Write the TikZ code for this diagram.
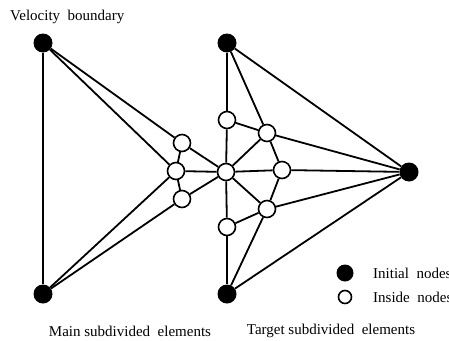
\documentclass[tikz,border=0pt]{standalone}
\usepackage{fontspec}
\setmainfont{Liberation Serif}
\begin{document}
\begin{tikzpicture}[x=1pt,y=-1pt,
  initnode/.style={circle,fill=black,minimum size=19pt,inner sep=0pt},
  insnode/.style={circle,draw=black,fill=white,line width=1.6pt,minimum size=17pt,inner sep=0pt},
  edge/.style={line width=1.8pt},
  lbl/.style={font=\fontsize{15}{18}\selectfont,inner sep=0pt}]
\useasboundingbox (0,0) rectangle (449,340);
% initial nodes
\node[initnode] (A) at (43,43) {};
\node[initnode] (B) at (43,294) {};
\node[initnode] (C) at (227,43) {};
\node[initnode] (D) at (227,294) {};
\node[initnode] (E) at (409,172) {};
% inside nodes
\node[insnode] (m1) at (182,143) {};
\node[insnode] (m2) at (176,171) {};
\node[insnode] (m3) at (182,199) {};
\node[insnode] (c) at (226,172) {};
\node[insnode] (t1) at (227,120) {};
\node[insnode] (t2) at (267,133) {};
\node[insnode] (t3) at (282,170) {};
\node[insnode] (t4) at (267,209) {};
\node[insnode] (t5) at (227,227) {};
% edges
\draw[edge] (A) -- (B);
\draw[edge] (A) -- (m1);
\draw[edge] (A) -- (m2);
\draw[edge] (B) -- (m2);
\draw[edge] (B) -- (m3);
\draw[edge] (m1) -- (m2);
\draw[edge] (m2) -- (m3);
\draw[edge] (m1) -- (c);
\draw[edge] (m2) -- (c);
\draw[edge] (m3) -- (c);
\draw[edge] (C) -- (t1);
\draw[edge] (C) -- (t2);
\draw[edge] (C) -- (E);
\draw[edge] (t1) -- (c);
\draw[edge] (t1) -- (t2);
\draw[edge] (t2) -- (c);
\draw[edge] (t2) -- (t3);
\draw[edge] (t2) -- (E);
\draw[edge] (t3) -- (c);
\draw[edge] (t3) -- (E);
\draw[edge] (t4) -- (c);
\draw[edge] (t4) -- (t3);
\draw[edge] (t4) -- (E);
\draw[edge] (t4) -- (t5);
\draw[edge] (t4) -- (D);
\draw[edge] (t5) -- (c);
\draw[edge] (t5) -- (D);
\draw[edge] (D) -- (E);
% labels
\node[lbl,anchor=west] (vb) at (10,17) {Velocity\ \ boundary};
\node[lbl] (ml) at (130,331) {Main subdivided\ \ elements};
\node[lbl] (tl) at (331,331) {Target subdivided\ \ elements};
% legend
\node[initnode,minimum size=17pt] (li) at (345,273) {};
\node[insnode,minimum size=13pt] (lw) at (345,297) {};
\node[lbl,anchor=west] (lit) at (373,273) {Initial\ \ nodes};
\node[lbl,anchor=west] (lwt) at (373,297) {Inside\ \ nodes};
\end{tikzpicture}
\end{document}
